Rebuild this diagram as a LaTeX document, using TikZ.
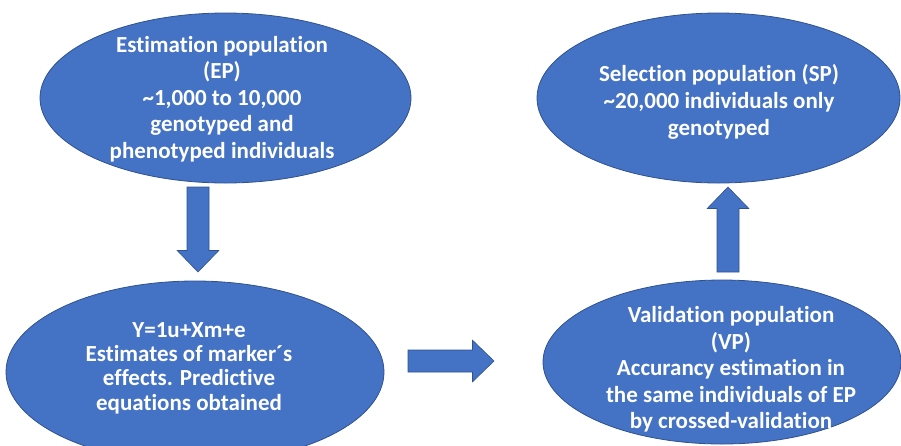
\documentclass[tikz,border=0pt]{standalone}
\usepackage{fontspec}
\setmainfont{Carlito}[Ligatures={NoCommon,NoContextual}]
\usetikzlibrary{shapes.geometric}

\definecolor{stagefill}{HTML}{4472C4}
\definecolor{stageline}{HTML}{2F528F}

\tikzset{
  stage/.style={ellipse, fill=stagefill, draw=stageline, line width=0.8pt,
    inner sep=0pt},
  stagetext/.style={text=white, align=center, inner sep=0pt,
    font=\fontsize{23}{26.6}\selectfont\bfseries},
  arrowbody/.style={fill=stagefill, draw=stageline, line width=0.6pt, line join=miter},
  % block arrow of length #1 pointing along the local x axis
  pics/blockarr/.style={code={
    \path[arrowbody] (0,-11) -- (#1-21.5,-11) -- (#1-21.5,-20.8) -- (#1,0)
      -- (#1-21.5,20.8) -- (#1-21.5,11) -- (0,11) -- cycle;
  }}
}

\begin{document}
\begin{tikzpicture}[x=1pt,y=-1pt]
  \useasboundingbox (0,0) rectangle (901,445);
  \clip (0,0) rectangle (901,445);

  % the four populations
  \node[stage, minimum width=371pt, minimum height=170pt] (ep) at (225.5,98) {};
  \node[stage, minimum width=363pt, minimum height=170pt] (sp) at (718.5,98) {};
  \node[stage, minimum width=378pt, minimum height=182pt] (est) at (195,372) {};
  \node[stage, minimum width=358pt, minimum height=164pt] (vp) at (722,362) {};

  \node[stagetext] (ept) at (222,99)
    {Estimation population\\(EP)\\\textasciitilde1,000 to 10,000\\genotyped and\\phenotyped individuals};
  \node[stagetext] (spt) at (719,102)
    {Selection population (SP)\\\textasciitilde20,000 individuals only\\genotyped};
  \node[stagetext, font=\fontsize{23}{24.4}\selectfont\bfseries] (estt) at (189,368)
    {Y=1u+Xm+e\\Estimates of marker´s\\effects. Predictive\\equations obtained};
  \node[stagetext] (vpt) at (731,369.5)
    {Validation population\\(VP)\\Accurancy estimation in\\the same individuals of EP\\by crossed-validation};

  % connectors between the stages
  \coordinate (a1) at (198,187);
  \coordinate (a2) at (408,361);
  \coordinate (a3) at (728,272);
  \pic[rotate=-90] (down) at (a1) {blockarr=85};
  \pic (right) at (a2) {blockarr=86};
  \pic[rotate=90] (up) at (a3) {blockarr=85};
\end{tikzpicture}
\end{document}
